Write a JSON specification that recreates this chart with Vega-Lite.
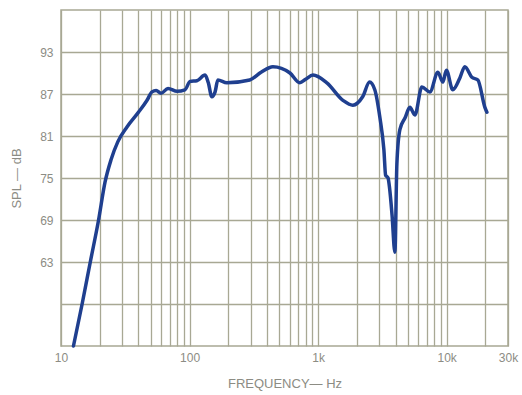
{
  "$schema": "https://vega.github.io/schema/vega-lite/v6.json",
  "width": 447,
  "height": 336,
  "autosize": {"type": "none"},
  "padding": {"left": 61, "top": 10, "right": 14, "bottom": 49},
  "background": "white",
  "config": {
    "view": {"stroke": "#a8a894", "strokeWidth": 1.5},
    "font": "Liberation Sans"
  },
  "data": {"values": [
    {"f": 12.5, "db": 51}, {"f": 14.6, "db": 57}, {"f": 16.9, "db": 63}, {"f": 19.6, "db": 69},
    {"f": 22, "db": 74.4}, {"f": 24.5, "db": 77.6}, {"f": 27.7, "db": 80.2}, {"f": 32.6, "db": 82.3},
    {"f": 39.7, "db": 84.3}, {"f": 46.7, "db": 86.1}, {"f": 51, "db": 87.3}, {"f": 55, "db": 87.5},
    {"f": 60, "db": 87.1}, {"f": 68, "db": 87.8}, {"f": 80, "db": 87.4}, {"f": 92, "db": 87.6},
    {"f": 101, "db": 88.8}, {"f": 114, "db": 88.9}, {"f": 132, "db": 89.7}, {"f": 140, "db": 88.6},
    {"f": 149, "db": 86.6}, {"f": 158, "db": 87.3}, {"f": 166, "db": 89}, {"f": 195, "db": 88.6},
    {"f": 294, "db": 89}, {"f": 360, "db": 90.1}, {"f": 445, "db": 90.9}, {"f": 604, "db": 90},
    {"f": 720, "db": 88.6}, {"f": 800, "db": 89.1}, {"f": 912, "db": 89.7}, {"f": 1170, "db": 88.6},
    {"f": 1560, "db": 86.1}, {"f": 1864, "db": 85.4}, {"f": 2220, "db": 86.6}, {"f": 2515, "db": 88.7},
    {"f": 2760, "db": 87.6}, {"f": 3020, "db": 83.7}, {"f": 3250, "db": 79}, {"f": 3350, "db": 75.4},
    {"f": 3500, "db": 75}, {"f": 3600, "db": 73.5}, {"f": 3760, "db": 69.7}, {"f": 3955, "db": 64.4},
    {"f": 4100, "db": 77}, {"f": 4325, "db": 81.9}, {"f": 4750, "db": 83.6}, {"f": 5175, "db": 85.1},
    {"f": 5660, "db": 84}, {"f": 6415, "db": 88}, {"f": 7400, "db": 87.3}, {"f": 8550, "db": 90.1},
    {"f": 9340, "db": 88.7}, {"f": 9950, "db": 90.4}, {"f": 11160, "db": 87.6}, {"f": 12670, "db": 89.3},
    {"f": 13840, "db": 90.9}, {"f": 15700, "db": 89.4}, {"f": 17490, "db": 89}, {"f": 19830, "db": 85.1},
    {"f": 20560, "db": 84.4}
  ]},
  "mark": {"type": "line", "color": "#1f3f8f", "strokeWidth": 3.5, "strokeJoin": "round", "strokeCap": "round", "interpolate": "monotone"},
  "encoding": {
    "x": {
      "field": "f", "type": "quantitative",
      "scale": {"type": "log", "domain": [10, 30000], "nice": false},
      "axis": {
        "title": "FREQUENCY— Hz",
        "titleFont": "Liberation Sans", "titleFontSize": 13, "titleFontWeight": "normal", "titleColor": "#8c8c84",
        "titlePadding": 14,
        "values": [10,20,30,40,50,60,70,80,90,100,200,300,400,500,600,700,800,900,1000,2000,3000,4000,5000,6000,7000,8000,9000,10000,20000,30000],
        "labelExpr": "datum.value == 10 ? '10' : datum.value == 100 ? '100' : datum.value == 1000 ? '1k' : datum.value == 10000 ? '10k' : datum.value == 30000 ? '30k' : ''",
        "labelFontSize": 12, "labelColor": "#8c8c84", "labelPadding": 6, "labelFlush": false,
        "ticks": false, "domain": false,
        "grid": true, "gridColor": "#a8a894", "gridWidth": 1.3, "gridOpacity": 1
      }
    },
    "y": {
      "field": "db", "type": "quantitative",
      "scale": {"domain": [51, 99], "nice": false, "zero": false},
      "axis": {
        "title": "SPL — dB",
        "titleFont": "Liberation Sans", "titleFontSize": 13, "titleFontWeight": "normal", "titleColor": "#8c8c84",
        "titlePadding": 16,
        "values": [57, 63, 69, 75, 81, 87, 93],
        "labelExpr": "datum.value == 57 ? '' : datum.label",
        "labelFontSize": 12, "labelColor": "#8c8c84", "labelPadding": 8,
        "ticks": false, "domain": false,
        "grid": true, "gridColor": "#a8a894", "gridWidth": 1.3, "gridOpacity": 1
      }
    }
  }
}
